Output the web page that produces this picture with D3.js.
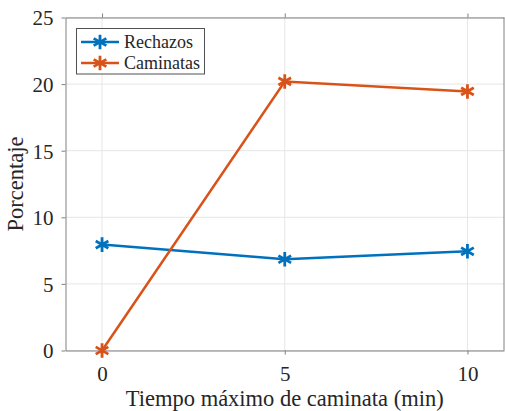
<!DOCTYPE html>
<html>
<head>
<meta charset="utf-8">
<script src="https://cdn.jsdelivr.net/npm/d3@7"></script>
<style>
  body { margin: 0; background: #fff; }
  svg text { font-family: "Liberation Serif", "Times New Roman", serif; fill: #262626; }
</style>
</head>
<body>
<svg id="chart" width="505" height="411"></svg>
<script>
// data
var tiempos = [0, 5, 10];
var rechazos = [7.95, 6.85, 7.45];
var caminatas = [0, 20.2, 19.45];
var xTicks = [0, 5, 10];
var yTicks = [0, 5, 10, 15, 20, 25];
var seriesNames = ["Rechazos", "Caminatas"];
var seriesColors = ["#0072BD", "#D95319"];

var svg = d3.select("#chart"),
    pLeft = 65.5, pRight = 504, pTop = 17.5, pBottom = 350.5;

var x = d3.scaleLinear().domain([-1, 11]).range([pLeft, pRight]);
var y = d3.scaleLinear().domain([0, 25]).range([pBottom, pTop]);

// grid
var grid = svg.append("g");
grid.selectAll(".gx").data(xTicks).enter().append("line")
    .attr("x1", function (d) { return x(d); }).attr("x2", function (d) { return x(d); })
    .attr("y1", pTop).attr("y2", pBottom)
    .attr("stroke", "#e6e6e6").attr("stroke-width", 1);
grid.selectAll(".gy").data(yTicks).enter().append("line")
    .attr("x1", pLeft).attr("x2", pRight)
    .attr("y1", function (d) { return y(d); }).attr("y2", function (d) { return y(d); })
    .attr("stroke", "#e6e6e6").attr("stroke-width", 1);

// axes
var xAxis = svg.append("g").attr("transform", "translate(0," + pBottom + ")")
    .call(d3.axisBottom(x).tickValues(xTicks).tickSize(4).tickPadding(12).tickSizeOuter(0));
var xTop = svg.append("g").attr("transform", "translate(0," + pTop + ")")
    .call(d3.axisTop(x).tickValues(xTicks).tickSize(4).tickFormat("").tickSizeOuter(0));
var yAxis = svg.append("g").attr("transform", "translate(" + pLeft + ",0)")
    .call(d3.axisLeft(y).tickValues(yTicks).tickSize(4).tickPadding(8).tickSizeOuter(0));
svg.append("line").attr("x1", pRight).attr("x2", pRight).attr("y1", pTop).attr("y2", pBottom)
    .attr("stroke", "#808080").attr("stroke-width", 1);

[xAxis, xTop, yAxis].forEach(function (a) {
    a.attr("font-family", null);
    a.select(".domain").attr("stroke", "#808080");
    a.selectAll(".tick line").attr("stroke", "#808080");
    a.selectAll("text").attr("font-size", "21px").attr("fill", "#262626")
        .style("font-family", "Liberation Serif");
});
yAxis.selectAll("text").attr("dy", "0.35em");

// titles
svg.append("text").attr("x", (pLeft + pRight) / 2).attr("y", 406)
    .attr("text-anchor", "middle").attr("font-size", "22.5px")
    .text("Tiempo máximo de caminata (min)");
svg.append("text").attr("transform", "translate(23," + ((pTop + pBottom) / 2) + ") rotate(-90)")
    .attr("text-anchor", "middle").attr("font-size", "22.5px")
    .text("Porcentaje");

// lines + asterisk markers
var line = d3.line().x(function (d, i) { return x(tiempos[i]); }).y(function (d) { return y(d); });
var star = d3.symbol().type(d3.symbolAsterisk).size(150);

[rechazos, caminatas].forEach(function (vals, k) {
    var g = svg.append("g");
    g.append("path").datum(vals).attr("d", line)
        .attr("fill", "none").attr("stroke", seriesColors[k]).attr("stroke-width", 2.5);
    g.selectAll("path.m").data(vals).enter().append("path").attr("class", "m")
        .attr("d", star)
        .attr("transform", function (d, i) { return "translate(" + x(tiempos[i]) + "," + y(d) + ")"; })
        .attr("fill", "none").attr("stroke", seriesColors[k]).attr("stroke-width", 2.8);
});

// legend
var leg = svg.append("g");
leg.append("rect").attr("x", 76.5).attr("y", 28.5).attr("width", 128).attr("height", 45.5)
    .attr("fill", "#fff").attr("stroke", "#262626").attr("stroke-opacity", 0.8).attr("stroke-width", 1);
seriesNames.forEach(function (n, k) {
    var ly = 42 + k * 21;
    leg.append("line").attr("x1", 81).attr("x2", 119).attr("y1", ly).attr("y2", ly)
        .attr("stroke", seriesColors[k]).attr("stroke-width", 2.5);
    leg.append("path").attr("d", star).attr("transform", "translate(100," + ly + ")")
        .attr("fill", "none").attr("stroke", seriesColors[k]).attr("stroke-width", 2.8);
    leg.append("text").attr("x", 124).attr("y", ly).attr("dy", "0.35em")
        .attr("font-size", "18px").text(n);
});
</script>
</body>
</html>
